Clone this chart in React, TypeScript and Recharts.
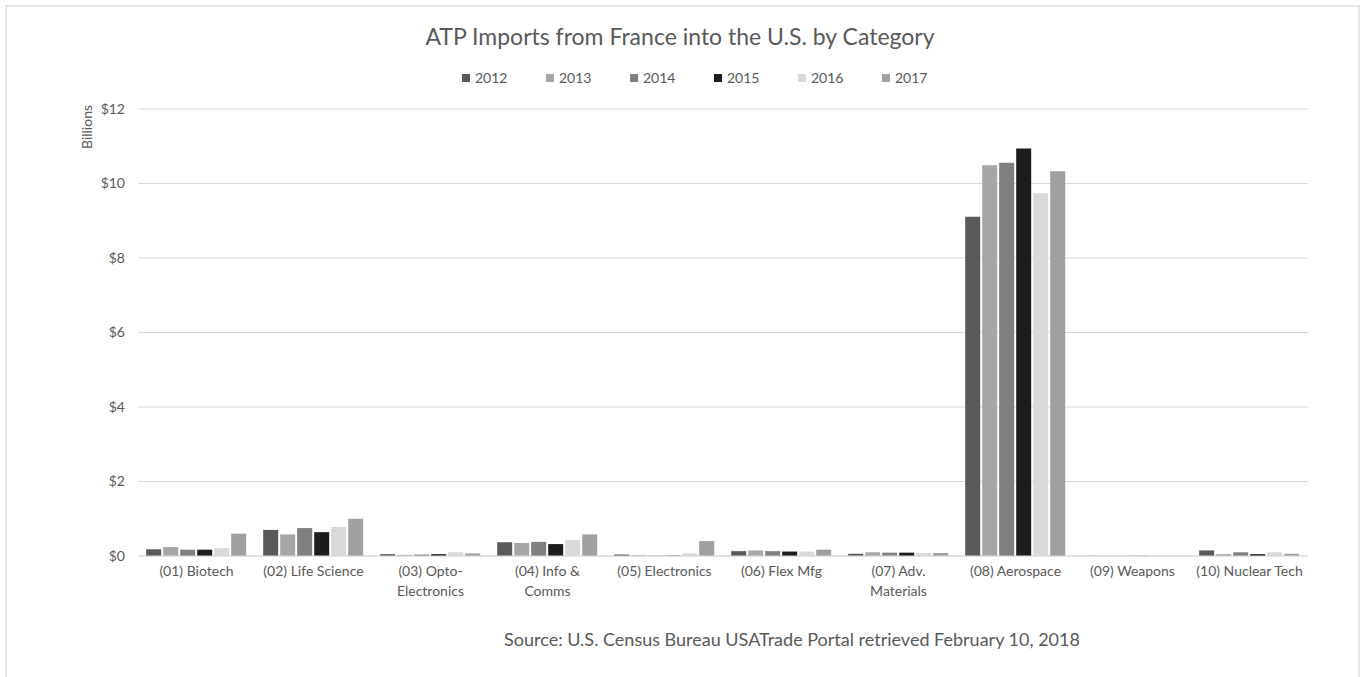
import { Bar, BarChart, CartesianGrid, Legend, XAxis, YAxis } from "recharts";

const categories = [
  "(01) Biotech",
  "(02) Life Science",
  "(03) Opto-\nElectronics",
  "(04) Info &\nComms",
  "(05) Electronics",
  "(06) Flex Mfg",
  "(07) Adv.\nMaterials",
  "(08) Aerospace",
  "(09) Weapons",
  "(10) Nuclear Tech",
];

const years = ["2012", "2013", "2014", "2015", "2016", "2017"];

const v2012 = [0.18, 0.7, 0.05, 0.37, 0.04, 0.13, 0.06, 9.11, 0.005, 0.15];
const v2013 = [0.24, 0.58, 0.03, 0.35, 0.02, 0.15, 0.1, 10.49, 0.005, 0.05];
const v2014 = [0.17, 0.75, 0.04, 0.38, 0.01, 0.13, 0.09, 10.56, 0.005, 0.1];
const v2015 = [0.17, 0.64, 0.05, 0.32, 0.01, 0.12, 0.09, 10.94, 0.005, 0.05];
const v2016 = [0.21, 0.78, 0.1, 0.43, 0.07, 0.12, 0.08, 9.74, 0.005, 0.1];
const v2017 = [0.6, 1.0, 0.07, 0.58, 0.4, 0.17, 0.08, 10.33, 0.005, 0.06];

const yTicks = [0, 2, 4, 6, 8, 10, 12];

const colors = ["#595959", "#a6a6a6", "#7f7f7f", "#1c1c1c", "#d9d9d9", "#a0a0a0"];

const series = [v2012, v2013, v2014, v2015, v2016, v2017];

const data = categories.map((name, i) => {
  const row: Record<string, string | number> = { name };
  years.forEach((y, k) => {
    row[y] = series[k][i];
  });
  return row;
});

const FONT = "Lato, 'Open Sans', sans-serif";
const TEXT = "#595959";

function CategoryTick({ x, y, payload }: any) {
  const lines = String(payload.value).split("\n");
  return (
    <text x={x} y={y + 12} textAnchor="middle" fill={TEXT} fontSize={14} fontFamily={FONT}>
      {lines.map((line, i) => (
        <tspan key={i} x={x} dy={i === 0 ? 0 : 20}>
          {line}
        </tspan>
      ))}
    </text>
  );
}

function LegendRow() {
  return (
    <div style={{ display: "flex", fontFamily: FONT, fontSize: 14, color: TEXT }}>
      {years.map((y, i) => (
        <div key={y} style={{ display: "flex", alignItems: "center", width: 84 }}>
          <span
            style={{ width: 8, height: 8, background: colors[i], display: "inline-block", marginRight: 5 }}
          />
          {y}
        </div>
      ))}
    </div>
  );
}

export default function App() {
  return (
    <div style={{ position: "absolute", left: 0, top: 0, width: 1360, height: 677, background: "#fff", overflow: "hidden" }}>
      <div
        style={{
          position: "absolute",
          left: 5,
          top: 5,
          width: 1351,
          height: 700,
          border: "2px solid #e6e6e6",
        }}
      />
      <div
        style={{
          position: "absolute",
          top: 22,
          left: 0,
          width: 1360,
          textAlign: "center",
          fontFamily: FONT,
          fontSize: 23,
          color: TEXT,
        }}
      >
        ATP Imports from France into the U.S. by Category
      </div>
      <div
        style={{
          position: "absolute",
          left: 86,
          top: 127,
          transform: "translate(-50%, -50%) rotate(-90deg)",
          fontFamily: FONT,
          fontSize: 14,
          color: TEXT,
        }}
      >
        Billions
      </div>
      <div style={{ position: "absolute", left: 0, top: 0 }}>
        <BarChart
          width={1360}
          height={677}
          data={data}
          margin={{ top: 92, right: 52, bottom: 91, left: 78 }}
          barCategoryGap="7%"
          barGap={2}
        >
          <CartesianGrid vertical={false} stroke="#d9d9d9" />
          <XAxis
            dataKey="name"
            interval={0}
            tick={<CategoryTick />}
            tickLine={false}
            axisLine={{ stroke: "#d9d9d9" }}
          />
          <YAxis
            width={60}
            domain={[0, 12]}
            ticks={yTicks}
            tickFormatter={(v) => `$${v}`}
            tick={{ fill: TEXT, fontSize: 14, fontFamily: FONT }}
            tickLine={false}
            axisLine={false}
            tickMargin={7}
          />
          <Legend
            verticalAlign="top"
            content={() => <LegendRow />}
            wrapperStyle={{ top: 69, left: 462, width: "auto" }}
          />
          {years.map((y, i) => (
            <Bar key={y} dataKey={y} fill={colors[i]} isAnimationActive={false} />
          ))}
        </BarChart>
      </div>
      <div
        style={{
          position: "absolute",
          top: 628,
          left: 392,
          width: 800,
          textAlign: "center",
          fontFamily: FONT,
          fontSize: 18,
          color: TEXT,
          whiteSpace: "nowrap",
        }}
      >
        Source: U.S. Census Bureau USATrade Portal retrieved February 10, 2018
      </div>
    </div>
  );
}
